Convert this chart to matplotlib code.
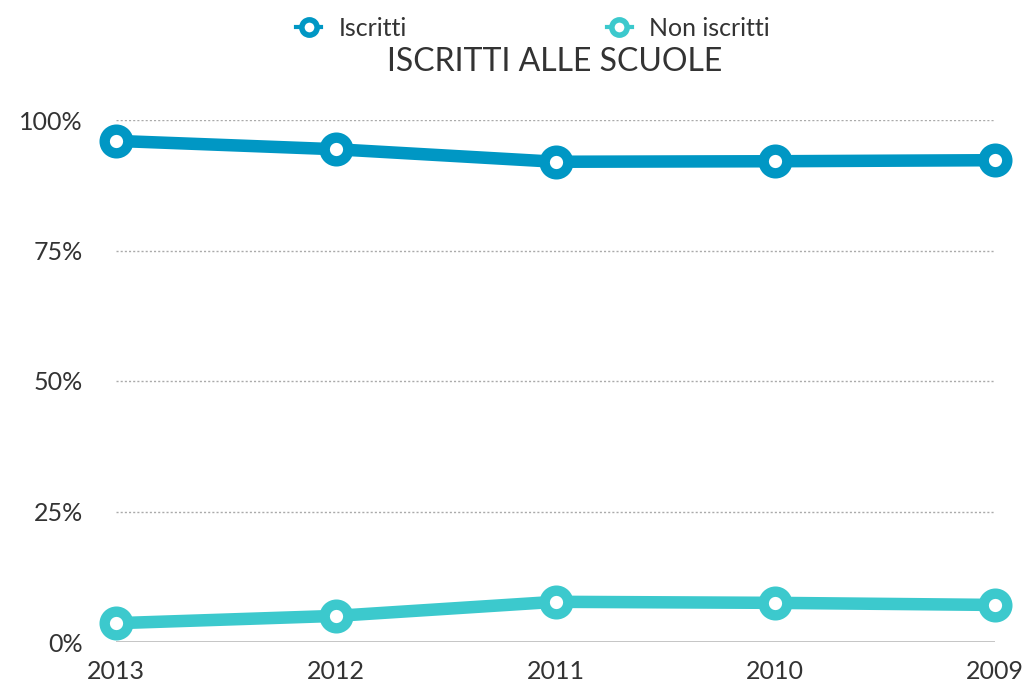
import matplotlib.pyplot as plt
from matplotlib.lines import Line2D

plt.rcParams['font.family'] = ['Lato', 'DejaVu Sans']

# Dati
anni = ['2013', '2012', '2011', '2010', '2009']
iscritti = [96.0, 94.4, 92.0, 92.1, 92.3]
non_iscritti = [3.6, 5.0, 7.7, 7.5, 7.1]
yticks = [0, 25, 50, 75, 100]

col_iscr = '#0097C4'
col_non = '#3CC9CD'
testo = '#333333'

fig = plt.figure(figsize=(10.25, 6.9), dpi=100)
ax = fig.add_axes([116 / 1025, 1 - 642 / 690, (995 - 116) / 1025, (642 - 120) / 690])

x = range(len(anni))
for vals, col in [(iscritti, col_iscr), (non_iscritti, col_non)]:
    ax.plot(x, vals, color=col, lw=9, marker='o', ms=17, mew=7.5,
            mfc='white', mec=col, clip_on=False, zorder=3,
            solid_joinstyle='round')

ax.set_xlim(0, len(anni) - 1)
ax.set_ylim(0, 100)
ax.set_xticks(list(x))
ax.set_xticklabels(anni)
ax.set_yticks(yticks)
ax.set_yticklabels([f'{v}%' for v in yticks])
ax.tick_params(axis='both', length=0, labelsize=18, colors=testo)
ax.tick_params(axis='y', pad=24)
ax.tick_params(axis='x', pad=13)

for v in yticks[1:]:
    ax.axhline(v, color='#aaaaaa', lw=1, ls=(0, (1.5, 1.5)), zorder=1)
ax.axhline(0, color='#bbbbbb', lw=1.2, zorder=1)
for s in ax.spines.values():
    s.set_visible(False)

fig.text(555 / 1025, 1 - 62 / 690, 'ISCRITTI ALLE SCUOLE', ha='center', va='center',
         fontsize=23, color=testo)

handles = [Line2D([], [], color=c, lw=3, marker='o', ms=11, mew=4, mfc='white', mec=c)
           for c in (col_iscr, col_non)]
fig.legend(handles, ['Iscritti', 'Non iscritti'], loc='center', bbox_to_anchor=(533 / 1025, 1 - 28 / 690),
           ncol=2, frameon=False, fontsize=18, handlelength=1.0, columnspacing=8.0,
           handletextpad=0.7, labelcolor=testo)

fig.savefig('out.png', dpi=100)
